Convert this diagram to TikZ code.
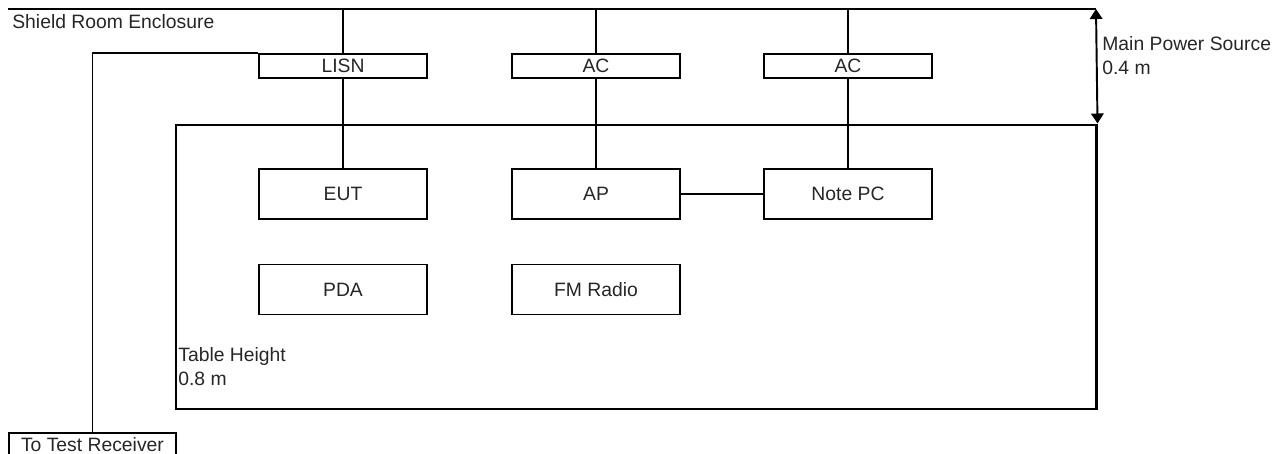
\documentclass[tikz,border=0pt]{standalone}
\usepackage{fontspec}
\setmainfont{Liberation Sans}
\usetikzlibrary{arrows.meta, positioning}

\begin{document}
\begin{tikzpicture}[x=0.2mm, y=-0.2mm, font=\fontsize{11}{13.6}\selectfont,
  box/.style={draw, line width=1.1pt, minimum width=33.6mm, inner sep=0pt, text=black!85},
  pwrbox/.style={box, minimum height=4.8mm},
  devbox/.style={box, minimum height=10mm},
  wire/.style={line width=1.1pt},
  label/.style={anchor=north west, align=left, inner sep=0pt, text=black!85}]
  \useasboundingbox (0,0) rectangle (1282,454);

  % shield room wall
  \coordinate (wallL) at (8,9);
  \coordinate (wallR) at (1096,9);
  \draw[line width=1.7pt] (wallL) -- (wallR);
  \node[label] (shield) at (12,14) {Shield Room Enclosure};

  % table
  \node[draw, line width=1.7pt, minimum width=184mm, minimum height=56.8mm] (table) at (636,267) {};
  \node[label] (height) at (178,347) {Table Height\\0.8 m};

  % power source height
  \draw[line width=1.1pt, {Triangle[length=2mm, width=2.5mm]}-{Triangle[length=2mm, width=2.5mm]}] (wallR) -- (table.north east);
  \node[label] (mains) at (1102,36) {Main Power Source\\0.4 m};

  % power boxes
  \node[pwrbox] (lisn) at (343,66) {LISN};
  \node[pwrbox] (acA) at (596,66) {AC};
  \node[pwrbox] (acB) at (848,66) {AC};

  % devices on table
  \node[devbox] (eut) at (343,194) {EUT};
  \node[devbox] (ap) at (596,194) {AP};
  \node[devbox] (pc) at (848,194) {Note PC};
  \node[devbox] (pda) at (343,289.5) {PDA};
  \node[devbox] (fm) at (596,289.5) {FM Radio};

  % receiver
  \node[box, anchor=north west, minimum width=33.4mm, minimum height=4.6mm] (rx) at (8,432) {To Test Receiver};

  % wiring
  \draw[wire] (lisn.north) -- (lisn.north |- wallL);
  \draw[wire] (acA.north) -- (acA.north |- wallL);
  \draw[wire] (acB.north) -- (acB.north |- wallL);
  \draw[wire] (lisn.south) -- (eut.north);
  \draw[wire] (acA.south) -- (ap.north);
  \draw[wire] (acB.south) -- (pc.north);
  \draw[wire] (ap.east) -- (pc.west);
  \draw[wire] (rx.north) |- (lisn.north west);
\end{tikzpicture}
\end{document}
